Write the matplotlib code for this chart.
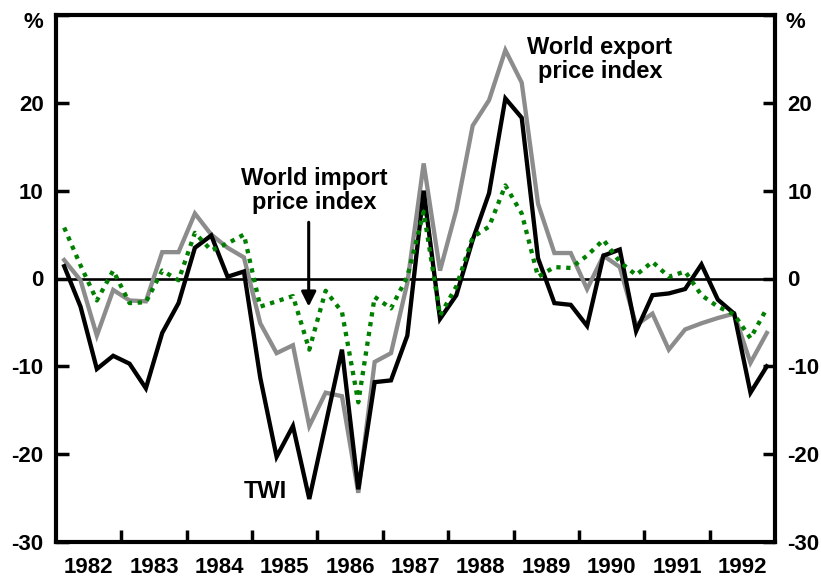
import matplotlib
matplotlib.use("Agg")
import matplotlib.pyplot as plt
import numpy as np

plt.rcParams["font.family"] = ["Liberation Sans", "DejaVu Sans"]
plt.rcParams["font.weight"] = "bold"

# quarterly, 1982 Q1 .. 1992 Q4, year-ended % change
start_year = 1982
n_quarters = 44

twi = [1.4, -3.2, -10.3, -8.8, -9.7, -12.5, -6.2, -2.8, 3.5, 4.9, 0.2, 0.8,
       -11.3, -20.3, -16.8, -25.1, -16.6, -8.1, -24.0, -11.8, -11.6, -6.5,
       10.0, -4.6, -1.9, 4.4, 9.7, 20.5, 18.3, 2.3, -2.8, -3.0, -5.4, 2.6,
       3.3, -6.0, -1.9, -1.7, -1.2, 1.6, -2.4, -4.0, -13.0, -10.0]
export_idx = [2.1, -0.2, -6.5, -1.3, -2.5, -2.6, 3.0, 3.0, 7.4, 5.0, 3.5, 2.4,
              -5.1, -8.5, -7.6, -16.8, -13.0, -13.4, -24.4, -9.5, -8.5, -0.5,
              13.1, 0.9, 7.8, 17.4, 20.3, 26.0, 22.3, 8.5, 2.9, 2.9, -1.2, 2.6,
              1.3, -5.3, -4.0, -8.1, -5.8, -5.1, -4.5, -4.0, -9.6, -6.2]
import_idx = [5.8, 1.5, -2.5, 0.9, -2.8, -2.7, 0.9, -0.2, 5.2, 3.2, 4.0, 5.0,
              -3.2, -2.6, -2.0, -8.1, -1.4, -3.8, -14.1, -2.1, -3.4, 0.2,
              7.6, -4.2, -0.9, 4.7, 5.9, 10.6, 7.4, 0.2, 1.3, 1.2, 2.6, 4.4,
              1.9, 0.4, 1.9, 0.2, 0.8, -1.9, -3.2, -4.1, -6.8, -3.4]

years = list(range(1982, 1993))
y_ticks = [-30, -20, -10, 0, 10, 20, 30]
y_labels = ["-30", "-20", "-10", "0", "10", "20", ""]

x = start_year + (np.arange(n_quarters) + 0.5) / 4

fig = plt.figure(figsize=(8.21, 5.77), dpi=100)
ax = fig.add_axes([56 / 821, 35 / 577, 719 / 821, 527 / 577])

ax.axhline(0, color="black", lw=1.9, zorder=1)
ax.plot(x, export_idx, color="#8c8c8c", lw=3.1, solid_joinstyle="miter", zorder=2)
ax.plot(x, twi, color="black", lw=3.1, solid_joinstyle="miter", zorder=3)
ax.plot(x, import_idx, color="#008000", lw=3.1, linestyle=(0, (1.0, 1.3)), zorder=4)

ax.set_xlim(1982, 1993)
ax.set_ylim(-30, 30)

ax.set_yticks(y_ticks)
ax.set_yticklabels(y_labels)
ax.tick_params(axis="y", direction="in", length=9, width=2.5, left=True, right=True,
               labelleft=True, labelright=True, labelsize=16, pad=9)

ax.set_xticks(years[1:])
ax.set_xticklabels([])
ax.set_xticks([yr + 0.5 for yr in years], minor=True)
ax.set_xticklabels([str(yr) for yr in years], minor=True)
ax.tick_params(axis="x", which="major", direction="in", length=9, width=2.5)
ax.tick_params(axis="x", which="minor", length=0, labelsize=16, pad=11)

for sp in ax.spines.values():
    sp.set_linewidth(3)

# "%" unit labels at top of both axes
trans = matplotlib.transforms.blended_transform_factory(ax.transAxes, ax.transData)
ax.text(-0.018, 29.1, "%", transform=trans, ha="right", va="center", fontsize=16)
ax.text(1.015, 29.1, "%", transform=trans, ha="left", va="center", fontsize=16)

ax.text(1990.32, 24.9, "World export\nprice index", ha="center", va="center",
        fontsize=17, linespacing=1.05)
ax.text(1985.95, 10.0, "World import\nprice index", ha="center", va="center",
        fontsize=17, linespacing=1.05)
ax.text(1985.21, -24.3, "TWI", ha="center", va="center", fontsize=17)
ax.annotate("", xy=(1985.866, -3.2), xytext=(1985.866, 6.4),
            arrowprops=dict(arrowstyle="-|>", color="black", lw=2.2,
                            mutation_scale=22, shrinkA=0, shrinkB=0))

fig.savefig("out.png", dpi=100)
